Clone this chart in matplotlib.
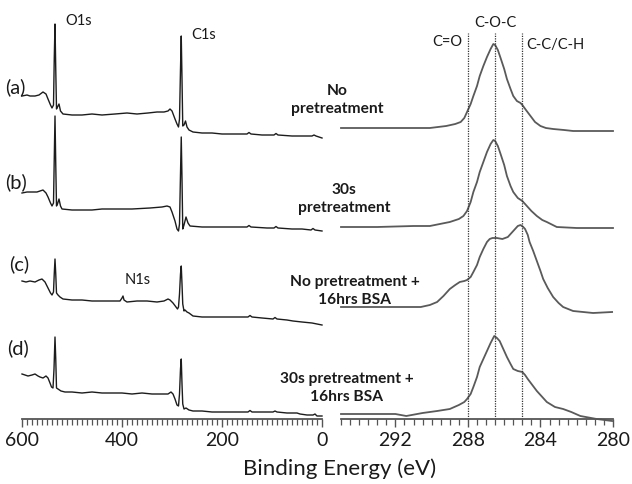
import matplotlib
matplotlib.use("Agg")
import matplotlib.pyplot as plt
from matplotlib.ticker import MultipleLocator, FixedLocator

plt.rcParams['font.family'] = ['Lato', 'DejaVu Sans']

# ---------------- survey spectra (binding energy eV, stacked intensity a.u.)
sa_ev = [600, 590, 584, 574, 566, 558, 552, 548, 543, 540, 537, 535.5, 534, 532.5, 531, 529, 526, 523, 518, 500,
         480, 460, 440, 414, 390, 370, 348, 330, 316, 308, 304, 300, 294, 290, 287, 285, 283, 281.5, 280, 278.5,
         276, 273, 270, 266, 258, 240, 220, 200, 180, 160, 150, 146, 142, 120, 100, 96, 92, 88, 60, 44, 30, 20,
         16, 12, 6, 0]
sa_int = [323, 324, 323, 323, 324, 327, 325, 320, 314, 311, 314, 360, 395, 350, 310, 312, 315, 308, 305, 304,
          304, 305, 304, 305, 306, 305, 306, 307, 307, 308, 310, 308, 300, 295, 292, 300, 350, 383, 340, 293,
          294, 298, 292, 289, 287, 286, 286, 285, 285, 285, 285, 286.5, 285, 284, 284, 284, 285.5, 284, 283, 283, 283, 283,
          284, 283, 282, 281]

sb_ev = [600, 590, 578, 570, 564, 558, 552, 548, 543, 540, 537, 535.5, 534, 532.5, 531, 529, 526, 523, 520, 500,
         478, 460, 440, 410, 380, 344, 320, 310, 304, 300, 294, 290, 287, 285, 283, 281.5, 280, 278.5, 276, 272,
         268, 264, 240, 210, 180, 150, 146, 142, 110, 96, 92, 88, 60, 40, 22, 18, 14, 0]
sb_int = [226, 227, 227, 227, 228, 229, 226, 222, 216, 213, 216, 260, 303, 255, 213, 215, 220, 213, 210, 209,
          209, 209, 210, 210, 210, 211, 212, 213, 212, 207, 198, 190, 188, 195, 245, 282, 240, 190, 194, 202,
          196, 193, 192, 192, 192, 192, 193.5, 192, 191, 191, 192.5, 191, 190, 190, 189, 190.5, 189, 188]

sc_ev = [600, 592, 584, 574, 566, 560, 554, 550, 546, 543, 540, 537, 535.5, 534, 532.5, 531, 528, 524, 518, 500,
         480, 460, 440, 420, 404, 400, 398, 396, 390, 370, 350, 330, 316, 308, 304, 298, 292, 289, 287, 285,
         283, 281.5, 280, 278.5, 276, 274, 270, 266, 258, 240, 224, 200, 160, 148, 144, 140, 120, 98, 94, 90,
         70, 58, 40, 20, 10, 0]
sc_int = [138, 137, 138, 137, 139, 140, 137, 133, 129, 126, 124, 127, 145, 160, 145, 126, 124, 122, 120, 119,
          119, 118, 118, 118, 118, 121, 123, 119, 117, 118, 118, 117, 118, 120, 119, 116, 112, 110, 112, 125,
          145, 153, 135, 115, 108, 109, 107, 106, 103, 102, 102, 102, 102, 102, 103.5, 102, 101, 100, 101.5, 100,
          99, 98, 97, 96, 95, 94]

sd_ev = [600, 594, 588, 580, 574, 568, 564, 558, 552, 548, 544, 541, 538, 536, 534, 532.5, 531, 528, 522, 514,
         500, 480, 460, 440, 420, 400, 380, 360, 340, 320, 308, 302, 298, 294, 290, 287, 285, 283, 281.5, 280,
         278.5, 276, 272, 266, 258, 240, 220, 190, 160, 148, 144, 140, 120, 98, 94, 90, 70, 50, 44, 30, 18, 14,
         10, 0]
sd_int = [45, 44, 43, 44, 45, 43, 42, 41, 43, 41, 36, 32, 31, 50, 82, 60, 31, 30, 28, 27,
          27, 26, 27, 26, 26, 26, 25, 26, 25, 25, 25, 27, 25, 20, 14, 13, 25, 50, 60, 35,
          15, 10, 11, 9, 8, 8, 7, 7, 7, 7, 8.5, 7, 7, 7, 8, 7, 6, 6, 5, 4, 4, 5,
          3, 3]

survey_labels = ['(a)', '(b)', '(c)', '(d)']

# ---------------- C1s high-resolution spectra
ha_ev = [295, 293, 291, 290.1, 289.2, 288.7, 288.4, 288.2, 288.05, 287.85, 287.7, 287.5, 287.35, 287.15, 286.95,
         286.75, 286.6, 286.5, 286.35, 286.2, 286.0, 285.85, 285.65, 285.5, 285.3, 285.1, 285.0, 284.8, 284.55,
         284.3, 284.0, 283.7, 283.3, 282.7, 282.2, 281, 280]
ha_int = [291, 291, 291, 291, 293, 295, 297, 301, 307, 315, 323, 333, 343, 353, 362,
          370, 375, 374, 369, 361, 350, 340, 330, 323, 318, 316, 314, 309, 303,
          297, 293, 291, 290, 289, 288, 288, 288]

hb_ev = [295, 293, 291, 290.1, 289, 288.5, 288.25, 288.05, 287.85, 287.7, 287.5, 287.35, 287.15, 286.95, 286.75,
         286.6, 286.5, 286.35, 286.2, 286.0, 285.85, 285.65, 285.5, 285.25, 285.0, 284.75, 284.5, 284.2, 283.9,
         283.65, 283.1, 282, 281, 280]
hb_int = [192, 192, 193, 193, 197, 200, 203, 208, 217, 227, 237, 247, 257, 267, 275,
          279, 278, 273, 265, 254, 243, 233, 227, 221, 218, 213, 208, 203, 199,
          197, 192, 191, 191, 191]

hc_ev = [295, 293, 291, 290.6, 290.1, 289.7, 289.35, 289.0, 288.7, 288.45, 288.2, 288.05, 287.85, 287.7, 287.5,
         287.35, 287.15, 286.95, 286.8, 286.65, 286.4, 286.1, 285.95, 285.8, 285.6, 285.4, 285.25, 285.1, 284.95,
         284.85, 284.7, 284.6, 284.4, 284.2, 284.0, 283.85, 283.6, 283.3, 283.0, 282.75, 282.2, 281.1, 280.05]
hc_int = [112, 112, 112, 112, 114, 117, 123, 130, 134, 137, 138, 139, 142, 147, 154,
          162, 170, 177, 180, 181, 181, 180, 181, 182, 186, 190, 193, 194, 192,
          190, 184, 177, 168, 158, 148, 140, 131, 122, 116, 112, 108, 106, 107]

hd_ev = [295, 293.5, 292, 291.4, 290.5, 289.7, 289, 288.5, 288.2, 288.05, 287.85, 287.7, 287.5, 287.35, 287.15,
         286.95, 286.75, 286.55, 286.4, 286.25, 286.05, 285.85, 285.65, 285.5, 285.25, 285.0, 284.85, 284.7,
         284.45, 284.2, 283.9, 283.65, 283.2, 282.75, 282.3, 281.8, 280.9, 280.05]
hd_int = [5, 5, 5, 3, 6, 8, 10, 14, 17, 20, 25, 32, 42, 52, 60,
          68, 76, 83, 81, 78, 70, 62, 55, 50, 48, 47, 44, 40,
          34, 28, 22, 17, 12, 10, 7, 3, 0, -2]

conditions = ['No\npretreatment', '30s\npretreatment', 'No pretreatment +\n16hrs BSA',
              '30s pretreatment +\n16hrs BSA']
component_lines = [288.0, 286.5, 285.0]
component_names = ['C=O', 'C-O-C', 'C-C/C-H']

# ---------------- figure
W, H = 632, 485
fig = plt.figure(figsize=(W / 100, H / 100), dpi=100)


def fx(px):
    return px / W


def fy(py):
    return 1 - py / H


ax1 = fig.add_axes([fx(22), fy(420), fx(300), 420 / H])
ax2 = fig.add_axes([fx(341), fy(420), fx(272), 420 / H])

for ev, it in [(sa_ev, sa_int), (sb_ev, sb_int), (sc_ev, sc_int), (sd_ev, sd_int)]:
    ax1.plot(ev, it, color='#1c1c1c', lw=1.0, clip_on=False)
ax1.set_xlim(600, 0)

for ev, it in [(ha_ev, ha_int), (hb_ev, hb_int), (hc_ev, hc_int), (hd_ev, hd_int)]:
    ax2.plot(ev, it, color='#5a5a5a', lw=1.3, clip_on=False)
ax2.set_xlim(295, 280)
ax2.vlines(component_lines, 0, 386, colors='#333333', linestyles=(0, (1, 1)), lw=0.9)

for ax in (ax1, ax2):
    ax.set_ylim(0, 420)
    for s in ('left', 'right', 'top'):
        ax.spines[s].set_visible(False)
    ax.spines['bottom'].set_color('#555555')
    ax.spines['bottom'].set_linewidth(1.3)
    ax.set_yticks([])
    ax.patch.set_alpha(0)
    ax.tick_params(axis='x', which='major', length=6, width=1.0, color='#555555',
                   labelsize=14, labelcolor='#1a1a1a', pad=3)
    ax.tick_params(axis='x', which='minor', length=4, width=0.9, color='#555555')

ax1.xaxis.set_major_locator(FixedLocator([600, 400, 200, 0]))
ax1.xaxis.set_minor_locator(MultipleLocator(10))
ax2.xaxis.set_major_locator(FixedLocator([292, 288, 284, 280]))
ax2.xaxis.set_minor_locator(MultipleLocator(0.5))

# texts
for lab, (px, py) in zip(survey_labels, [(5, 87), (5, 182), (9, 264), (7, 348)]):
    fig.text(fx(px), fy(py), lab, fontsize=14.5, ha='left', va='center', color='#1a1a1a')

fig.text(fx(65), fy(21), 'O1s', fontsize=10.5, ha='left', va='center', color='#1a1a1a')
fig.text(fx(191), fy(35), 'C1s', fontsize=10.5, ha='left', va='center', color='#1a1a1a')
fig.text(fx(125), fy(280), 'N1s', fontsize=10.5, ha='left', va='center', color='#1a1a1a')

for name, (px, py) in zip(component_names, [(447, 42), (495, 23), (555, 45)]):
    fig.text(fx(px), fy(py), name, fontsize=10.5, ha='center', va='center', color='#1a1a1a')

for cond, (px, py) in zip(conditions, [(337, 100), (344, 199), (355, 291), (347, 388)]):
    fig.text(fx(px), fy(py), cond, fontsize=11.2, fontweight='bold', ha='center', va='center',
             color='#1a1a1a', linespacing=1.3)

fig.text(fx(340), fy(469), 'Binding Energy (eV)', fontsize=16, ha='center', va='center', color='#1a1a1a')

fig.savefig('out.png', dpi=100, facecolor='white')
